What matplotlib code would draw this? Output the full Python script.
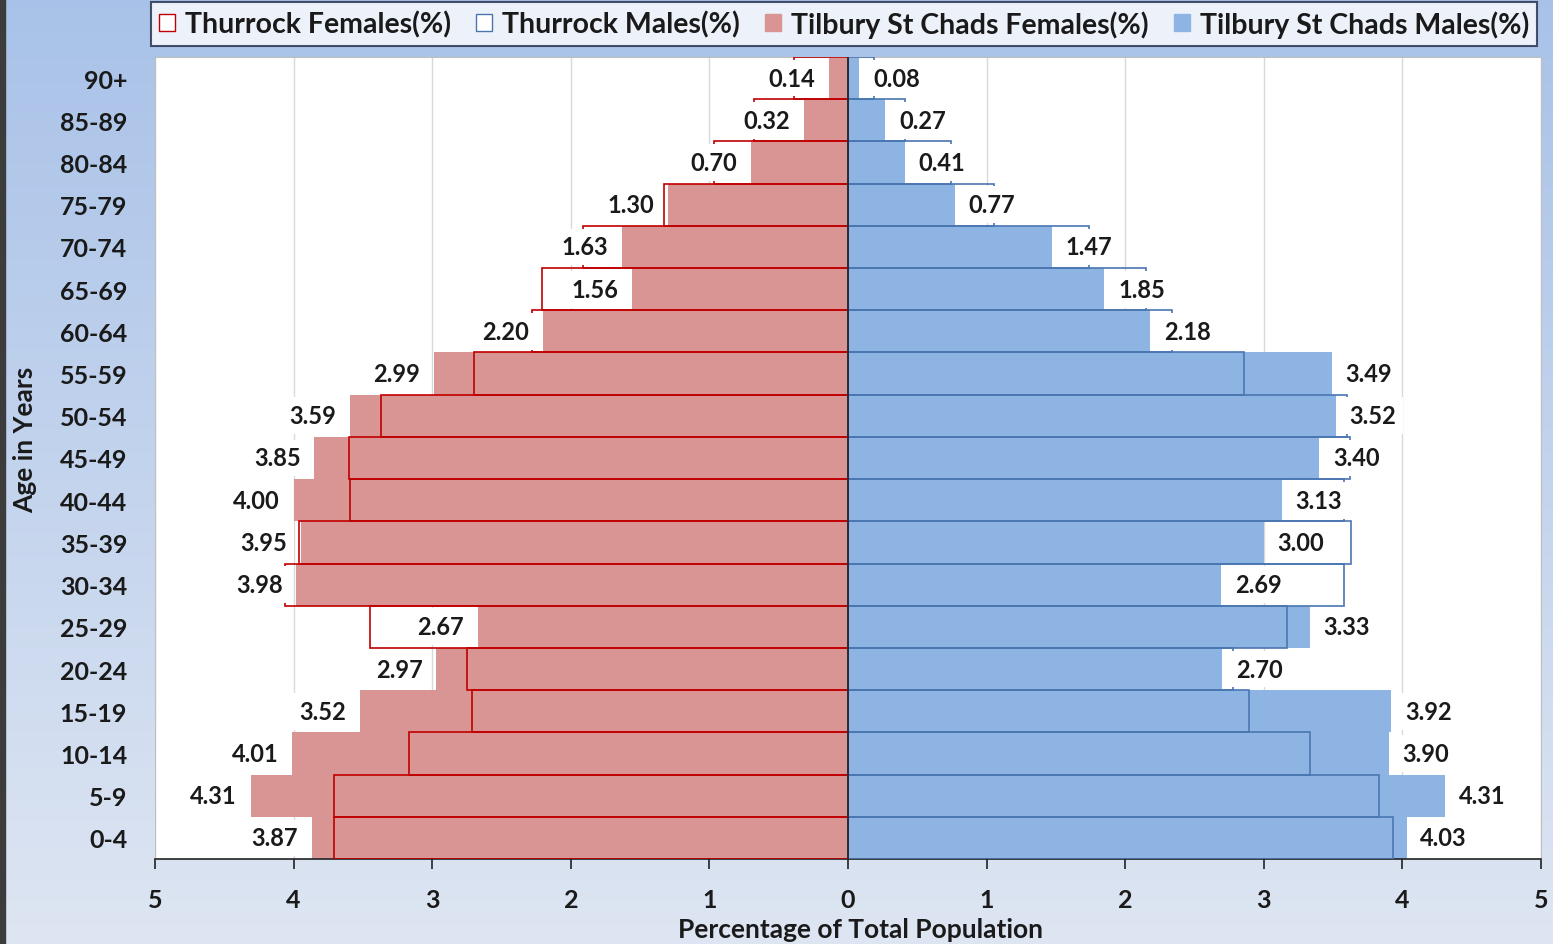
import numpy as np
import matplotlib.pyplot as plt
from matplotlib.patches import Patch

ages = ["0-4", "5-9", "10-14", "15-19", "20-24", "25-29", "30-34", "35-39", "40-44",
        "45-49", "50-54", "55-59", "60-64", "65-69", "70-74", "75-79", "80-84", "85-89", "90+"]

# Tilbury St Chads (filled bars, labelled)
tilbury_f = [3.87, 4.31, 4.01, 3.52, 2.97, 2.67, 3.98, 3.95, 4.00, 3.85, 3.59, 2.99,
             2.20, 1.56, 1.63, 1.30, 0.70, 0.32, 0.14]
tilbury_m = [4.03, 4.31, 3.90, 3.92, 2.70, 3.33, 2.69, 3.00, 3.13, 3.40, 3.52, 3.49,
             2.18, 1.85, 1.47, 0.77, 0.41, 0.27, 0.08]
# Thurrock (outline bars)
thurrock_f = [3.71, 3.71, 3.17, 2.71, 2.75, 3.45, 4.06, 3.96, 3.59, 3.60, 3.37, 2.70,
              2.28, 2.21, 1.91, 1.33, 0.97, 0.68, 0.39]
thurrock_m = [3.93, 3.83, 3.33, 2.89, 2.78, 3.17, 3.58, 3.63, 3.58, 3.62, 3.60, 2.86,
              2.34, 2.15, 1.74, 1.05, 0.74, 0.41, 0.19]
xticks = [-5, -4, -3, -2, -1, 0, 1, 2, 3, 4, 5]

FONT = "Lato"
TXT = "#1a1a1a"
f_fill, f_edge = "#d99594", "#c00000"
m_fill, m_edge = "#8eb4e3", "#4a76b0"

fig = plt.figure(figsize=(15.53, 9.45), dpi=100)

# background gradient
bg = fig.add_axes([0, 0, 1, 1])
top = np.array([0.66, 0.76, 0.91])
bot = np.array([0.87, 0.90, 0.95])
t = np.linspace(0, 1, 200)[:, None]
grad = top * (1 - t) + bot * t
bg.imshow(grad[:, None, :].repeat(10, axis=1), aspect="auto", extent=[0, 1, 0, 1])
bg.axvspan(0, 5 / 1553, color="#3c3c3c")
bg.set_xlim(0, 1)
bg.set_ylim(0, 1)
bg.axis("off")

ax = fig.add_axes([155 / 1553, 1 - 860 / 945, 1386 / 1553, 802 / 945])
ax.set_facecolor("white")
y = np.arange(len(ages))

ax.barh(y, [-v for v in tilbury_f], height=1.0, color=f_fill, zorder=2)
ax.barh(y, tilbury_m, height=1.0, color=m_fill, zorder=2)
ax.barh(y, [-v for v in thurrock_f], height=1.0, facecolor="none", edgecolor=f_edge, lw=1.2, zorder=3)
ax.barh(y, thurrock_m, height=1.0, facecolor="none", edgecolor=m_edge, lw=1.2, zorder=3)
ax.axvline(0, color="#222222", lw=1.2, zorder=4)

box = dict(facecolor="white", edgecolor="none", pad=5)
for i in range(len(ages)):
    ax.text(-tilbury_f[i] - 0.1, y[i], f"{tilbury_f[i]:.2f}", ha="right", va="center",
            fontsize=17, fontweight="bold", family=FONT, color=TXT, bbox=box, zorder=5)
    ax.text(tilbury_m[i] + 0.1, y[i], f"{tilbury_m[i]:.2f}", ha="left", va="center",
            fontsize=17, fontweight="bold", family=FONT, color=TXT, bbox=box, zorder=5)

ax.set_xlim(-5, 5)
ax.set_ylim(-0.5, len(ages) - 0.5)
ax.set_xticks(xticks)
ax.set_xticklabels([str(abs(v)) for v in xticks], fontsize=18, fontweight="bold", family=FONT, color=TXT)
ax.set_yticks(y)
ax.set_yticklabels(ages, fontsize=18, fontweight="bold", family=FONT, color=TXT)
ax.tick_params(axis="y", length=0, pad=20)
ax.tick_params(axis="x", length=7, width=1.2, direction="out", pad=14, color="#222222")
ax.grid(axis="x", color="#d9d9d9", lw=1, zorder=0)
ax.set_axisbelow(True)
for s in ["top", "left", "right"]:
    ax.spines[s].set_color("#bfbfbf")
ax.spines["bottom"].set_color("#222222")
ax.spines["bottom"].set_linewidth(1.2)

ax.set_xlabel("Percentage of Total Population", fontsize=19, fontweight="bold", family=FONT, color=TXT)
ax.xaxis.set_label_coords(0.509, -0.072)
ax.set_ylabel("Age in Years", fontsize=19, fontweight="bold", family=FONT, color=TXT)
ax.yaxis.set_label_coords(-0.085, 0.524)

handles = [Patch(facecolor="white", edgecolor=f_edge, label="Thurrock Females(%)"),
           Patch(facecolor="white", edgecolor=m_edge, label="Thurrock Males(%)"),
           Patch(facecolor=f_fill, edgecolor=f_fill, label="Tilbury St Chads Females(%)"),
           Patch(facecolor=m_fill, edgecolor=m_fill, label="Tilbury St Chads Males(%)")]
leg = fig.legend(handles=handles, loc="center", bbox_to_anchor=(844 / 1553, 1 - 25 / 945), ncol=4,
                 prop={"family": FONT, "weight": "bold", "size": 20.5}, frameon=True, fancybox=False,
                 handlelength=0.55, handleheight=0.55, handletextpad=0.35, columnspacing=0.9,
                 borderpad=0.3, borderaxespad=0, labelcolor=TXT)
leg.get_frame().set_edgecolor("#1f2a44")
leg.get_frame().set_linewidth(1.5)

fig.savefig("out.png", dpi=100)
